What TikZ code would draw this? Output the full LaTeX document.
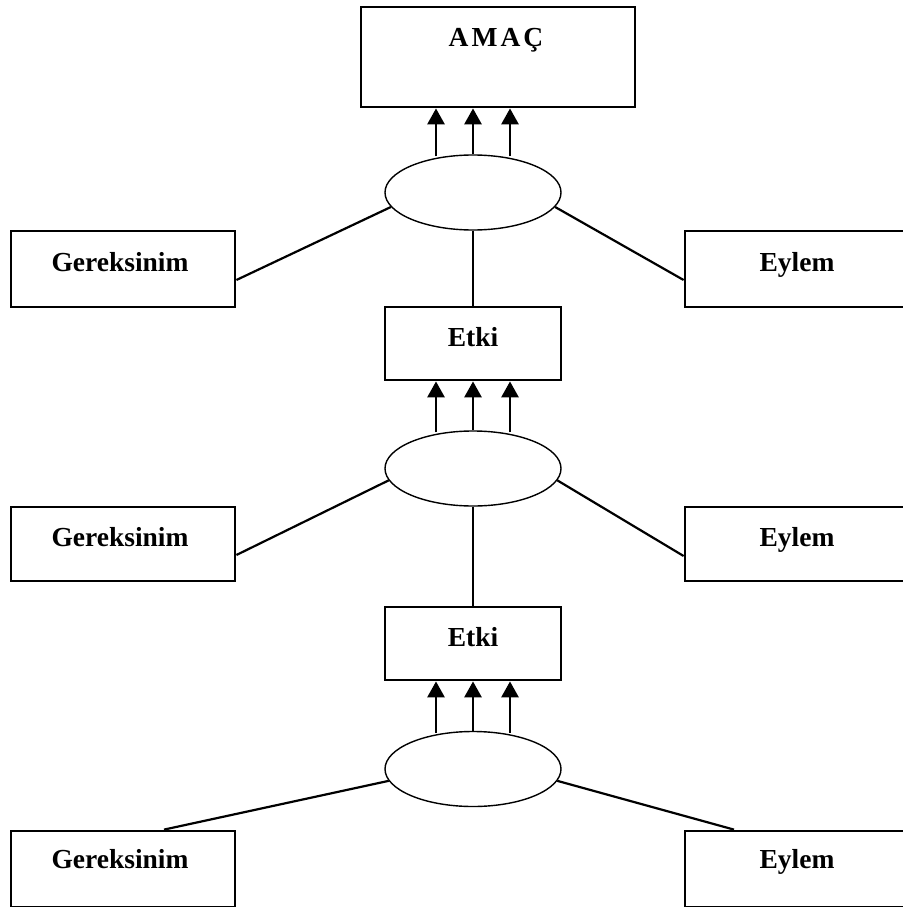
\documentclass[tikz,border=0pt]{standalone}
\usepackage{fontspec}
\setmainfont{Liberation Serif}
\usetikzlibrary{arrows.meta,shapes.geometric}
\begin{document}
\begin{tikzpicture}[x=1pt,y=-1pt,
  boxnode/.style={draw,line width=2.8pt,rectangle,inner sep=0pt,minimum height=76pt},
  ellnode/.style={draw,line width=1.4pt,ellipse,inner sep=0pt,minimum width=176pt,minimum height=75pt},
  lbl/.style={inner sep=0pt,anchor=base,font=\fontsize{27.5}{30}\selectfont\bfseries},
  conn/.style={line width=2.2pt},
  arr/.style={line width=2.8pt,-{Triangle[width=17pt,length=16pt]}}]
\useasboundingbox (0,0) rectangle (902,907);
% top goal
\node[boxnode,minimum width=274pt,minimum height=100pt] (amac) at (498,57) {};
\node[lbl] (amact) at (496,47) {A\kern3pt M\kern3pt A\kern3pt Ç};
% level 1
\node[ellnode] (e1) at (473,192.5) {};
\node[boxnode,minimum width=224pt] (g1) at (123,269) {};
\node[lbl] (g1t) at (120,271) {Gereksinim};
\node[boxnode,minimum width=224pt] (y1) at (797,269) {};
\node[lbl] (y1t) at (797,271) {Eylem};
\node[boxnode,minimum width=176pt,minimum height=73pt] (k1) at (473,343.5) {};
\node[lbl] (k1t) at (473,346) {Etki};
% level 2
\node[ellnode] (e2) at (473,468.5) {};
\node[boxnode,minimum width=224pt,minimum height=74pt] (g2) at (123,544) {};
\node[lbl] (g2t) at (120,546) {Gereksinim};
\node[boxnode,minimum width=224pt,minimum height=74pt] (y2) at (797,544) {};
\node[lbl] (y2t) at (797,546) {Eylem};
\node[boxnode,minimum width=176pt,minimum height=73pt] (k2) at (473,643.5) {};
\node[lbl] (k2t) at (473,646) {Etki};
% level 3
\node[ellnode] (e3) at (473,769) {};
\node[boxnode,minimum width=224pt] (g3) at (123,869) {};
\node[lbl] (g3t) at (120,868) {Gereksinim};
\node[boxnode,minimum width=224pt] (y3) at (797,869) {};
\node[lbl] (y3t) at (797,868) {Eylem};
% arrows
\foreach \e/\b in {e1/amac,e2/k1,e3/k2}{
  \draw[arr] ([xshift=-37pt,yshift=-2pt]\e.north) -- ([xshift=-37pt]\e.north |- \b.south);
  \draw[arr] (\e.north) -- (\e.north |- \b.south);
  \draw[arr] ([xshift=37pt,yshift=-2pt]\e.north) -- ([xshift=37pt]\e.north |- \b.south);
}
% connectors
\draw[conn] (e1.190) -- ([yshift=-11pt]g1.east);
\draw[conn] (e1.350) -- ([yshift=-11pt]y1.west);
\draw[conn] (e1.south) -- (k1.north);
\draw[conn] (e2.188) -- ([yshift=-11pt]g2.east);
\draw[conn] (e2.352) -- ([yshift=-12pt]y2.west);
\draw[conn] (e2.south) -- (k2.north);
\draw[conn] (e3.188) -- ([xshift=41pt]g3.north);
\draw[conn] (e3.352) -- ([xshift=-63pt]y3.north);
\end{tikzpicture}
\end{document}
